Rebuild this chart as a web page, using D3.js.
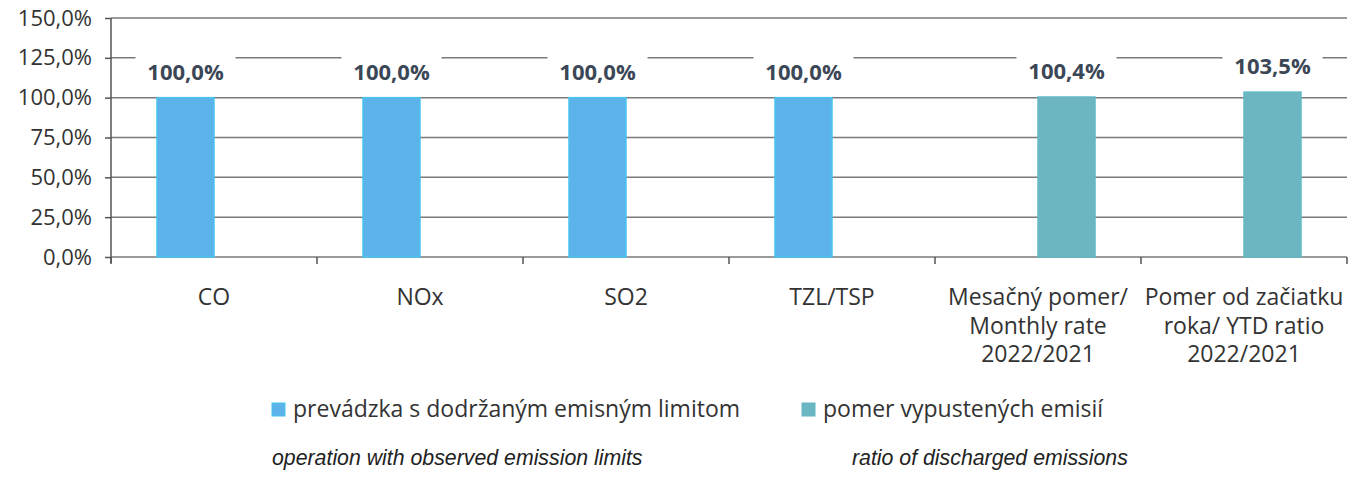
<!DOCTYPE html>
<html>
<head>
<meta charset="utf-8">
<script src="https://cdn.jsdelivr.net/npm/d3@7"></script>
<style>
  body { margin: 0; background: #fff; }
  svg text { font-family: "Open Sans", "Noto Sans", sans-serif; }
</style>
</head>
<body>
<svg id="chart" width="1357" height="479"></svg>
<script>
// categories (multi-line labels)
var categories = [
    ['CO'],
    ['NOx'],
    ['SO2'],
    ['TZL/TSP'],
    ['Mesačný pomer/', 'Monthly rate', '2022/2021'],
    ['Pomer od začiatku', 'roka/ YTD ratio', '2022/2021']
];
var limitValues = [1.000, 1.000, 1.000, 1.000, null, null];
var ratioValues = [null, null, null, null, 1.004, 1.035];
var yTicks = [0, 0.25, 0.5, 0.75, 1, 1.25, 1.5];

var seriesNames = ['prevádzka s dodržaným emisným limitom', 'pomer vypustených emisií'];
var seriesNotes = ['operation with observed emission limits', 'ratio of discharged emissions'];
var colors = ['#5cb3ea', '#6cb6c1'];
var borders = ['#48c4f0', '#62b8c4'];

var svg = d3.select('#chart');
var pLeft = 111, pRight = 1347, pTop = 18, pBottom = 257;

var fmt = function(v){
    return (v * 100).toFixed(1).replace('.', ',') + '%';
};

var y = d3.scaleLinear().domain([0, 1.5]).range([pBottom, pTop]);
var x = d3.scaleBand().domain(d3.range(categories.length)).range([pLeft, pRight]);
var bw = 57;

// gridlines
svg.append('g').selectAll('line.grid')
    .data(yTicks)
    .enter().append('line')
    .attr('x1', pLeft).attr('x2', pRight)
    .attr('y1', function(d){ return y(d); })
    .attr('y2', function(d){ return y(d); })
    .attr('stroke', '#7a7a7a')
    .attr('stroke-width', 1.5);

// y axis
var yAxis = d3.axisLeft(y).tickValues(yTicks).tickSize(6).tickPadding(13).tickFormat(fmt);
var gy = svg.append('g').attr('transform', 'translate(' + pLeft + ',0)').call(yAxis);
gy.select('.domain').attr('stroke', '#555').attr('stroke-width', 1.5).attr('d', 'M0,' + pTop + 'V' + (pBottom + 6));
gy.selectAll('.tick line').attr('stroke', '#555').attr('stroke-width', 1.5);
gy.selectAll('.tick text').attr('font-size', 22).attr('fill', '#333')
    .style('font-family', '"Open Sans", sans-serif');

// x axis line and ticks
var xTickPos = d3.range(categories.length + 1).map(function(i){ return pLeft + i * x.bandwidth(); });
svg.append('g').selectAll('line.xt')
    .data(xTickPos)
    .enter().append('line')
    .attr('x1', function(d){ return d; }).attr('x2', function(d){ return d; })
    .attr('y1', pBottom).attr('y2', pBottom + 7)
    .attr('stroke', '#555').attr('stroke-width', 1.5);

// x labels
var xl = svg.append('g').selectAll('text.xl')
    .data(categories)
    .enter().append('text')
    .attr('text-anchor', 'middle')
    .attr('font-size', 23)
    .attr('fill', '#333')
    .attr('transform', function(d, i){
        return 'translate(' + (x(i) + x.bandwidth() / 2) + ',305)';
    });
xl.selectAll('tspan')
    .data(function(d){ return d; })
    .enter().append('tspan')
    .attr('x', 0)
    .attr('y', function(d, i){ return i * 28.5; })
    .text(function(d){ return d; });

// bars
[limitValues, ratioValues].forEach(function(vals, s){
    var g = svg.append('g');
    var data = vals.map(function(v, i){ return {v: v, i: i}; }).filter(function(d){ return d.v !== null; });
    g.selectAll('rect')
        .data(data)
        .enter().append('rect')
        .attr('x', function(d){ return x(d.i) + x.bandwidth() / 2 - bw + s * bw; })
        .attr('width', bw)
        .attr('y', function(d){ return y(d.v); })
        .attr('height', function(d){ return y(0) - y(d.v); })
        .attr('fill', colors[s])
        .attr('stroke', borders[s])
        .attr('stroke-width', 1.5);

    var lab = g.selectAll('g.lab')
        .data(data)
        .enter().append('g')
        .attr('transform', function(d){
            return 'translate(' + (x(d.i) + x.bandwidth() / 2 - bw / 2 + s * bw) + ',' + (y(d.v) - 18) + ')';
        });
    lab.append('rect')
        .attr('x', -50).attr('y', -24).attr('width', 100).attr('height', 30)
        .attr('fill', '#fff');
    lab.append('text')
        .attr('text-anchor', 'middle')
        .attr('font-size', 22)
        .attr('font-weight', 'bold')
        .attr('fill', '#3b4756')
        .text(function(d){ return fmt(d.v); });
});

// legend
var legX = [272, 802];
var legend = svg.append('g').selectAll('g.leg')
    .data(seriesNames)
    .enter().append('g')
    .attr('transform', function(d, i){ return 'translate(' + legX[i] + ',403)'; });
legend.append('rect')
    .attr('width', 13).attr('height', 13)
    .attr('fill', function(d, i){ return colors[i]; })
    .attr('stroke', function(d, i){ return borders[i]; });
legend.append('text')
    .attr('x', 21).attr('y', 14)
    .attr('font-size', 23)
    .attr('fill', '#333')
    .text(function(d){ return d; });

var noteX = [272, 852];
svg.append('g').selectAll('text.note')
    .data(seriesNotes)
    .enter().append('text')
    .attr('x', function(d, i){ return noteX[i]; })
    .attr('y', 465)
    .attr('font-size', 21.3)
    .attr('font-style', 'italic')
    .attr('fill', '#222')
    .style('font-family', '"Liberation Sans", Arial, sans-serif')
    .text(function(d){ return d; });
</script>
</body>
</html>
